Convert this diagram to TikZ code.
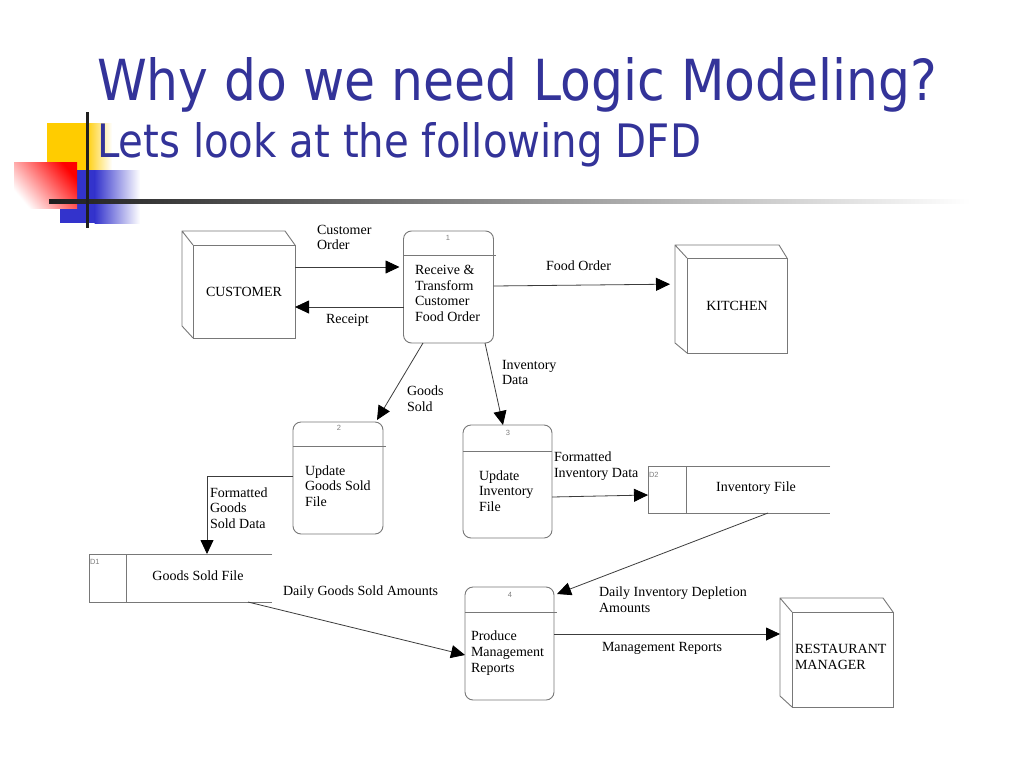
\documentclass[tikz,border=0pt]{standalone}
\usepackage{fontspec}
\usepackage{graphicx}
\setmainfont{Liberation Serif}
\newfontfamily\titlefont{DejaVu Sans}
\newfontfamily\numfont{Liberation Sans}
\usetikzlibrary{arrows.meta,calc}
\definecolor{titleblue}{RGB}{51,51,153}
\definecolor{decoyellow}{RGB}{255,204,0}
\definecolor{decoblue}{RGB}{51,51,204}
\definecolor{boxgray}{RGB}{120,120,120}
\definecolor{linegray}{RGB}{60,60,60}
\begin{document}
\begin{tikzpicture}[x=1pt,y=-1pt,
  every node/.style={inner sep=0pt, outer sep=0pt},
  dtext/.style={font=\fontsize{14pt}{15.7pt}\selectfont, align=left, anchor=west, text=black},
  proc/.style={draw=boxgray, line width=0.9pt, rounded corners=8pt},
  entface/.style={draw=boxgray, line width=0.9pt, align=left, font=\fontsize{14pt}{15.7pt}\selectfont},
  boxline/.style={draw=boxgray, line width=0.9pt},
  storebox/.style={draw=none},
  num/.style={font=\numfont\fontsize{7.5pt}{8pt}\selectfont, text=gray},
  flow/.style={draw=linegray, line width=0.8pt, -{Triangle[length=14pt,width=13pt,color=black]}},
  ]
\useasboundingbox[fill=white] (0,0) rectangle (1024,768);

% decoration
\fill[decoyellow] (47,123) rectangle (86,170);
\shade[left color=decoyellow, right color=white] (85.5,123) rectangle (112,170);
\fill[decoblue] (60,170) rectangle (95,223);
\shade[left color=decoblue, right color=white] (94.5,170) rectangle (140,223);
\shade[top color=red, bottom color=white, shading angle=-50] (14,162) rectangle (77,208);
\shade[left color=black!88, middle color=black!45, right color=white] (49,199) rectangle (970,203);
\fill[black!88] (85.5,112) rectangle (88.5,228);

% titles
\node[anchor=base west, text=titleblue] (title1) at (97,100) {\resizebox{840pt}{43pt}{\titlefont Why do we need Logic Modeling?}};
\node[anchor=base west, text=titleblue] (title2) at (97,157) {\resizebox{604pt}{35pt}{\titlefont Lets look at the following DFD}};

% external entities
\node[entface, minimum width=102, minimum height=93] (cust) at (244,291.5) {CUSTOMER};
\draw[boxline] (cust.south west) -- ++(-11,-12) -- ($(cust.north west)+(-11,-14)$) -- ($(cust.north east)+(-10,-14)$) -- (cust.north east)
  (cust.north west) -- ++(-11,-14);

\node[entface, minimum width=100, minimum height=95] (kit) at (737,305.5) {KITCHEN};
\draw[boxline] (kit.south west) -- ++(-12,-10) -- ($(kit.north west)+(-12,-13)$) -- ($(kit.north east)+(-8,-13)$) -- (kit.north east)
  (kit.north west) -- ++(-12,-13);

\node[entface, minimum width=101, minimum height=95] (rm) at (842.5,659.5) {};
\node[dtext] (rmt) at (795,657) {RESTAURANT\\MANAGER};
\draw[boxline] (rm.south west) -- ++(-12,-11) -- ($(rm.north west)+(-12,-14)$) -- ($(rm.north east)+(-10,-14)$) -- (rm.north east)
  (rm.north west) -- ++(-12,-14);

% processes
\node[proc, minimum width=90, minimum height=112] (p1) at (448.5,287) {};
\draw[boxline] (p1.west |- 0,255) -- ++(92,0);
\node[num] (p1n) at (448,238) {1};
\node[dtext] (p1t) at (415,293.5) {Receive \&\\Transform\\Customer\\Food Order};

\node[proc, minimum width=90, minimum height=112] (p2) at (338,478) {};
\draw[boxline] (p2.west |- 0,446) -- ++(93,0);
\node[num] (p2n) at (339,428) {2};
\node[dtext] (p2t) at (305,486) {Update\\Goods Sold\\File};

\node[proc, minimum width=89, minimum height=113] (p3) at (507.5,481.5) {};
\draw[boxline] (p3.west |- 0,451) -- ++(89,0);
\node[num] (p3n) at (508,433) {3};
\node[dtext] (p3t) at (479,491) {Update\\Inventory\\File};

\node[proc, minimum width=89, minimum height=113] (p4) at (509.5,643.5) {};
\draw[boxline] (p4.west |- 0,612) -- ++(92,0);
\node[num] (p4n) at (510,595) {4};
\node[dtext] (p4t) at (471,653) {Produce\\Management\\Reports};

% data stores
\node[storebox, minimum width=183, minimum height=48] (d1) at (180.5,578) {};
\draw[boxline] (d1.north east) -- (d1.north west) -- (d1.south west) -- (d1.south east);
\draw[boxline] (126,0 |- d1.north) -- (126,0 |- d1.south);
\node[num, anchor=west] (d1n) at (90,562) {D1};
\node[dtext, anchor=center] (d1t) at (198,576) {Goods Sold File};

\node[storebox, minimum width=182, minimum height=47] (d2) at (739,489.5) {};
\draw[boxline] (d2.north east) -- (d2.north west) -- (d2.south west) -- (d2.south east);
\draw[boxline] (686,0 |- d2.north) -- (686,0 |- d2.south);
\node[num, anchor=west] (d2n) at (649,475) {D2};
\node[dtext, anchor=center] (d2t) at (756,488) {Inventory File};

% flows
\draw[flow, shorten >=4pt] (cust.east |- 0,267) -- (p1.west |- 0,267);
\draw[flow] (p1.west |- 0,307) -- (cust.east |- 0,307);
\draw[flow, shorten >=17pt] (p1.east |- 0,286) -- (kit.west |- 0,284);
\draw[flow] (423,0 |- p1.south) -- (377,420);
\draw[flow] (485,0 |- p1.south) -- (503,0 |- p3.north);
\draw[flow] (p2.west |- 0,476) -| (207,0 |- d1.north);
\draw[flow] (p3.east |- 0,497) -- (d2.west |- 0,495);
\draw[flow] (248,0 |- d1.south) -- (p4.west |- 0,655);
\draw[flow] (768,0 |- d2.south) -- ($(p4.north east)+(3,7)$);
\draw[flow, shorten >=12pt] (p4.east |- 0,634) -- (rm.west |- 0,634);

% flow labels
\node[dtext] (l1) at (317,237.5) {Customer\\Order};
\node[dtext] (l2) at (326,320) {Receipt};
\node[dtext] (l3) at (546,266) {Food Order};
\node[dtext] (l4) at (407,399) {Goods\\Sold};
\node[dtext] (l5) at (502,372.5) {Inventory\\Data};
\node[dtext] (l6) at (210,508) {Formatted\\Goods\\Sold Data};
\node[dtext] (l7) at (554,466) {Formatted\\Inventory Data};
\node[dtext] (l8) at (283,592) {Daily Goods Sold Amounts};
\node[dtext] (l9) at (599,600) {Daily Inventory Depletion\\Amounts};
\node[dtext] (l10) at (602,648) {Management Reports};
\end{tikzpicture}
\end{document}
